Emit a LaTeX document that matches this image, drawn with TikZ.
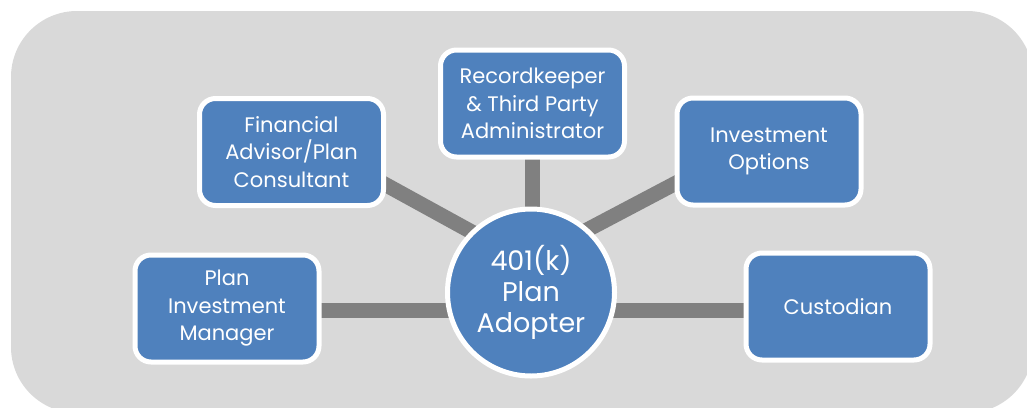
\documentclass[tikz,border=0pt]{standalone}
\usepackage{fontspec}
\setmainfont{Poppins}
\usetikzlibrary{backgrounds}
\definecolor{bgray}{HTML}{D9D9D9}
\definecolor{lgray}{HTML}{808080}
\definecolor{sblue}{HTML}{4F81BD}
\tikzset{
  box/.style={draw=white, line width=5pt, fill=sblue, rounded corners=16pt,
    minimum width=184pt, minimum height=107pt, inner sep=0pt, align=center,
    text=white, font=\fontsize{21}{27.5}\selectfont},
  hub/.style={draw=white, line width=5pt, fill=sblue, circle, minimum size=167pt,
    inner sep=0pt, align=center, text=white, font=\fontsize{27}{31}\selectfont},
  link/.style={draw=lgray, line width=15pt}
}
\begin{document}
\begin{tikzpicture}[x=1pt,y=-1pt]
\useasboundingbox (0,0) rectangle (1027,407);
\node[hub] (ad) at (531,292.5) {401(k)\\Plan\\Adopter};
\node[box] (fa) at (291.5,152) {Financial\\Advisor/Plan\\Consultant};
\node[box] (rk) at (532.5,103.5) {Recordkeeper\\\& Third Party\\Administrator};
\node[box] (io) at (769,151.5) {Investment\\Options};
\node[box] (pim) at (227,308.5) {Plan\\Investment\\Manager};
\node[box] (cu) at (838,306.5) {Custodian};
\coordinate (h) at (531,310);
\begin{scope}[on background layer]
  \fill[bgray, rounded corners=66pt] (11,11) rectangle (1033,413);
  \draw[link] (rk.center |- ad.center) -- (rk.center);
  \draw[link] ([yshift=19pt]fa.center) -- ([yshift=28pt]ad.center);
  \draw[link] ([yshift=17.5pt]io.center) -- ([yshift=33pt]ad.center);
  \draw[link] (pim.center |- h) -- (h);
  \draw[link] (h) -- (cu.center |- h);
\end{scope}
\end{tikzpicture}
\end{document}
